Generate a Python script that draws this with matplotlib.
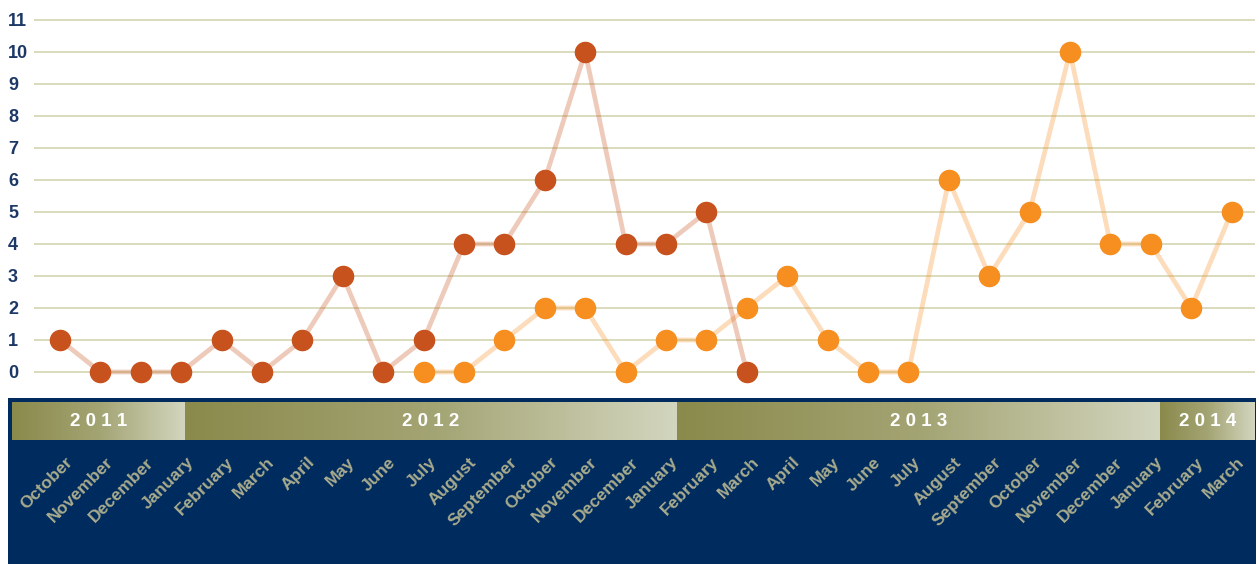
import numpy as np
import matplotlib
matplotlib.use("Agg")
import matplotlib.pyplot as plt
from matplotlib.colors import LinearSegmentedColormap

months = ["October", "November", "December", "January", "February", "March",
          "April", "May", "June", "July", "August", "September", "October",
          "November", "December", "January", "February", "March", "April",
          "May", "June", "July", "August", "September", "October", "November",
          "December", "January", "February", "March"]
years = ["2011", "2012", "2013", "2014"]

# first series: October 2011 - March 2013
series1_x = list(range(0, 18))
series1 = [1, 0, 0, 0, 1, 0, 1, 3, 0, 1, 4, 4, 6, 10, 4, 4, 5, 0]
# second series: July 2012 - March 2014
series2_x = list(range(9, 30))
series2 = [0, 0, 1, 2, 2, 0, 1, 1, 2, 3, 1, 0, 0, 6, 3, 5, 10, 4, 4, 2, 5]

W, H = 1259, 564
x0, step = 60, 40.4


def to_idx(px):
    return (px - x0) / step


plt.rcParams['font.family'] = ['Liberation Sans', 'DejaVu Sans']
fig = plt.figure(figsize=(W / 100, H / 100), dpi=100)

# main plot area
ax = fig.add_axes([34 / W, (H - 390) / H, (1255 - 34) / W, 390 / H])
ax.set_xlim(to_idx(34), to_idx(1255))
ax.set_ylim(-18 / 32, 11 + 20 / 32)
for s in ax.spines.values():
    s.set_visible(False)
ax.set_xticks([])
ax.set_yticks(range(0, 12))
ax.tick_params(axis='y', length=0, pad=18.7, labelsize=13, labelcolor='#1c3866')
for lab in ax.get_yticklabels():
    lab.set_horizontalalignment('left')
    lab.set_fontweight('bold')
ax.grid(axis='y', color='#d9dcbc', linewidth=1.4)
ax.set_axisbelow(True)

ax.plot(series2_x, series2, color='#f68e20', alpha=0.3, linewidth=3.4, zorder=2)
ax.plot(series1_x, series1, color='#c8521d', alpha=0.3, linewidth=3.4, zorder=3)
ax.plot(series1_x, series1, 'o', color='#c8521d', markersize=14.5, zorder=4)
ax.plot(series2_x, series2, 'o', color='#f68e20', markersize=14.5, zorder=5)

# bottom panel: year bands and month labels
ax2 = fig.add_axes([8 / W, 0, (1256 - 8) / W, 166 / H])
ax2.set_facecolor('#002b5e')
for s in ax2.spines.values():
    s.set_visible(False)
ax2.set_xticks([])
ax2.set_yticks([])

cmap = LinearSegmentedColormap.from_list('band', ['#8a8a4c', '#a3a473', '#d3d6bf'])
grad = np.linspace(0, 1, 256).reshape(1, -1)
edges = [to_idx(12), to_idx(185), to_idx(677), to_idx(1160), to_idx(1255)]
for i, yr in enumerate(years):
    a, b = edges[i], edges[i + 1]
    ax2.imshow(grad, cmap=cmap, extent=(a, b, 42, 4), aspect='auto', zorder=1)
    ax2.text((a + b) / 2, 23.5, " ".join(yr), color='white',
             fontsize=13.5, fontweight='bold', ha='center', va='center', zorder=2)
ax2.set_xlim(to_idx(8), to_idx(1256))
ax2.set_ylim(166, 0)

for i, m in enumerate(months):
    ax2.text(i + 10 / step, 62, m, rotation=45, rotation_mode='anchor',
             ha='right', va='center', color='#a9ac8d', fontsize=12.5,
             fontweight='bold')

fig.savefig("out.png", dpi=100)
